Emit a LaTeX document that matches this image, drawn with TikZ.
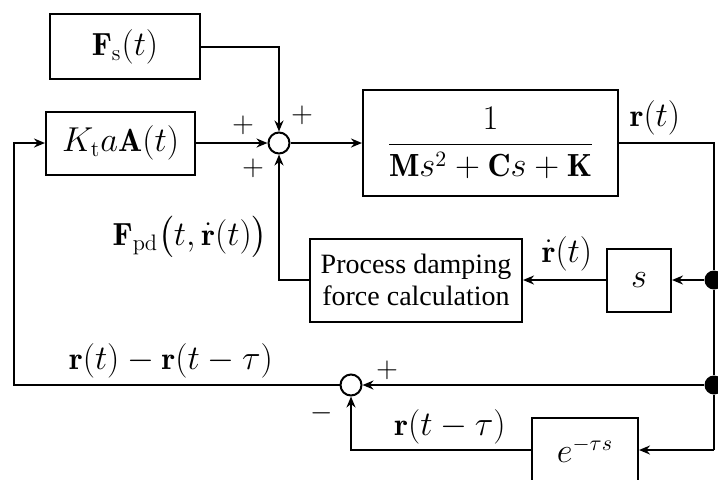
\documentclass[tikz,border=0pt]{standalone}
\usepackage{amsmath}
\usepackage{fontspec}
\newfontfamily\pdfont{Liberation Serif}
\usetikzlibrary{arrows.meta}
\begin{document}
\begin{tikzpicture}[
  x=0.5pt, y=-0.5pt,
  font=\fontsize{16}{19}\selectfont,
  blk/.style={draw, line width=1pt, inner sep=0pt},
  sum/.style={draw, circle, line width=1pt, minimum size=10.5pt, inner sep=0pt},
  dot/.style={circle, fill, minimum size=9.5pt, inner sep=0pt},
  ln/.style={line width=1pt},
  e/.style={line width=1pt, -{Stealth[length=5.5pt, width=4.5pt]}},
  lbl/.style={inner sep=1pt},
  sgn/.style={inner sep=0pt, font=\fontsize{15}{18}\selectfont}
]
\useasboundingbox (0,0) rectangle (718,479);

% blocks
\node[blk, minimum width=75pt, minimum height=32.5pt] (fs) at (125,46.5) {$\mathbf{F}_{\mathrm{s}}(t)$};
\node[blk, minimum width=74.5pt, minimum height=31.5pt] (ktaa) at (120.5,143) {$K_{\mathrm{t}}a\mathbf{A}(t)$};
\node[blk, minimum width=127.5pt, minimum height=53pt] (plant) at (490.5,143) {$\dfrac{1}{\mathbf{M}s^2+\mathbf{C}s+\mathbf{K}}$};
\node[blk, minimum width=106pt, minimum height=41.5pt, align=center,
      font=\pdfont\fontsize{14}{16}\selectfont] (pd) at (416,280) {Process damping\\force calculation};
\node[blk, minimum width=32pt, minimum height=31.5pt] (sblk) at (639,280) {$s$};
\node[blk, minimum width=53pt, minimum height=32pt] (delay) at (585,450) {$e^{-\tau s}$};

% junctions
\node[sum] (sum1) at (279,143) {};
\node[sum] (sum2) at (351,385) {};
\node[dot] (d1) at (714,280) {};
\node[dot] (d2) at (714,385) {};
\coordinate (c1) at (714,143);
\coordinate (c2) at (714,450);
\coordinate (c3) at (14,385);
\coordinate (c4) at (14,143);

% signal lines
\draw[e] (fs.east) -| (sum1.north);
\draw[e] (ktaa.east) -- (sum1.west);
\draw[e] (sum1.east) -- (plant.west);
\draw[ln] (plant.east) -- (c1) -- (d1) -- (d2) -- (c2);
\draw[e] (c2) -- (delay.east);
\draw[e] (d1) -- (sblk.east);
\draw[e] (sblk.west) -- (pd.east);
\draw[e] (pd.west) -| (sum1.south);
\draw[e] (d2) -- (sum2.east);
\draw[e] (delay.west) -| (sum2.south);
\draw[e] (sum2.west) -- (c3) -- (c4) -- (ktaa.west);

% labels
\node[lbl] (lr) at (655,118) {$\mathbf{r}(t)$};
\node[lbl] (lrdot) at (567,254) {$\dot{\mathbf{r}}(t)$};
\node[lbl, anchor=east] (lfpd) at (270,237) {$\mathbf{F}_{\mathrm{pd}}\bigl(t,\dot{\mathbf{r}}(t)\bigr)$};
\node[lbl] (lerr) at (171,361) {$\mathbf{r}(t)-\mathbf{r}(t-\tau)$};
\node[lbl] (ldel) at (450,427) {$\mathbf{r}(t-\tau)$};
\node[sgn] (p1) at (302,115) {$+$};
\node[sgn] (p2) at (243,125) {$+$};
\node[sgn] (p3) at (253,168) {$+$};
\node[sgn] (p4) at (387,370) {$+$};
\node[sgn] (m1) at (322,413) {$-$};

\end{tikzpicture}
\end{document}
